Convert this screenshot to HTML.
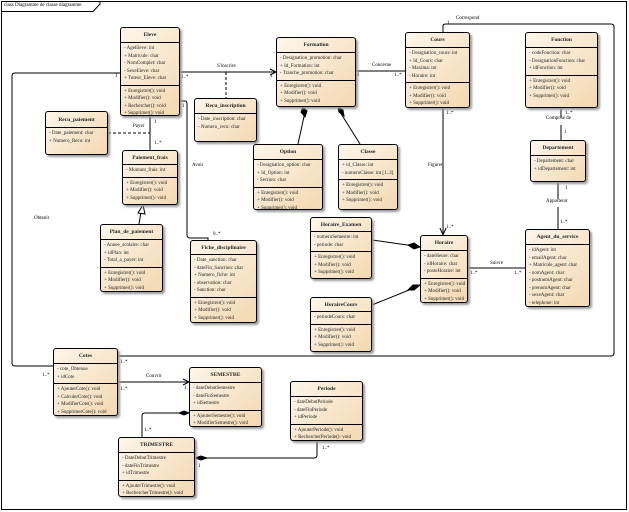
<!DOCTYPE html>
<html><head><meta charset="utf-8"><style>
body{margin:0;width:629px;height:512px;background:#fff;position:relative;overflow:hidden;font-family:"Liberation Serif",serif;}
.b{position:absolute;border:1px solid #000;border-radius:3px;background:linear-gradient(135deg,#fdf6ea,#f3d8b2);box-shadow:2px 2px 2px #999;box-sizing:border-box;font-size:5px;color:#222;overflow:hidden}
.t{font-weight:bold;text-align:center;border-bottom:1px solid #000;display:flex;align-items:center;justify-content:center;font-size:5.5px}
.s{border-bottom:1px solid #000;padding:2px 0 2px 3px}
.s:last-child{border-bottom:none}
.s div{height:7.5px;line-height:7.5px;white-space:nowrap}
.l{position:absolute;font-size:5px;font-family:"Liberation Serif",serif;white-space:nowrap}
svg{position:absolute;left:0;top:0}
</style></head><body>
<svg width="629" height="512" stroke="#000" fill="none" stroke-width="1">
<rect x="1.5" y="1.5" width="625" height="508"/>
<path d="M1.5 11.5 H93 L100 4 V1.5"/>
<path d="M120 73 H15 Q12 73 12 76 V363 Q12 366 15 366 H53"/>
<path d="M443 32 V26 Q443 24 446 24 H611 Q614 24 614 27 V353 Q614 356 611 356 H118"/>
<path d="M180 72 H276 M270 69 L276 72 L270 75"/>
<path d="M226 72 V98" stroke-dasharray="3,2"/>
<path d="M356 71 H405"/>
<path d="M305 112 L298 144 M340 112 L360 144"/>
<path d="M303 107 L307 111 L305 117 L301 112Z M338 107 L343 110 L344 116 L339 112Z" fill="#000"/>
<path d="M150 116 V150"/>
<path d="M108 133 H150" stroke-dasharray="3,2"/>
<path d="M180 101 H185 Q187 101 187 104 V235 Q187 238 190 238 H208 V240"/>
<path d="M139 224 L141 212"/><path d="M143 205 L138 213 L145 214Z" fill="#fff"/>
<path d="M443 108 V235 M440 228 L443 235 L446 228"/>
<path d="M372 240 L414 246 M372 305 L414 288"/>
<path d="M420 247 L414 243 L408 245 L414 249Z M420 285 L413 285 L408 290 L414 290Z" fill="#000"/>
<path d="M468 268 H525"/>
<path d="M561 108 V117 M561 125 V140 M558 182 V199 M558 207 V229"/>
<path d="M118 382 H189 M183 379 L189 382 L183 385"/>
<path d="M142 437 V416 Q142 413 145 413 H183"/>
<path d="M189 413 L184 411 L179 413 L184 415Z" fill="#000"/>
<path d="M317 441 V455 Q317 458 314 458 H207"/>
<path d="M195 458 L201 456 L207 458 L201 460Z" fill="#000"/>
</svg>
<div class="l" style="left:4px;top:3px;font-size:5px">class Diagramme de classe diagramme</div>
<div class="l" style="left:217px;top:64px">S'inscrire</div>
<div class="l" style="left:372px;top:63px">Concerne</div>
<div class="l" style="left:394px;top:73px">1..*</div>
<div class="l" style="left:357px;top:73px">1</div>
<div class="l" style="left:270px;top:74px">1</div>
<div class="l" style="left:181px;top:75px">1..*</div>
<div class="l" style="left:115px;top:74px">1</div>
<div class="l" style="left:182px;top:104px">1</div>
<div class="l" style="left:133px;top:124px">Payer</div>
<div class="l" style="left:154px;top:120px">1</div>
<div class="l" style="left:154px;top:141px">1..*</div>
<div class="l" style="left:192px;top:163px">Avoir</div>
<div class="l" style="left:213px;top:232px">0..*</div>
<div class="l" style="left:34px;top:216px">Obtenir</div>
<div class="l" style="left:456px;top:16px">Correspond</div>
<div class="l" style="left:447px;top:21px">1</div>
<div class="l" style="left:446px;top:111px">1..*</div>
<div class="l" style="left:428px;top:163px">Figurer</div>
<div class="l" style="left:446px;top:225px">1..*</div>
<div class="l" style="left:565px;top:111px">1..*</div>
<div class="l" style="left:546px;top:116px">Composé de</div>
<div class="l" style="left:564px;top:130px">1</div>
<div class="l" style="left:565px;top:186px">1</div>
<div class="l" style="left:546px;top:199px">Appartenir</div>
<div class="l" style="left:560px;top:220px">1..*</div>
<div class="l" style="left:490px;top:261px">Suivre</div>
<div class="l" style="left:470px;top:271px">1..*</div>
<div class="l" style="left:514px;top:271px">1..*</div>
<div class="l" style="left:120px;top:360px">1..*</div>
<div class="l" style="left:42px;top:373px">1..*</div>
<div class="l" style="left:146px;top:374px">Couvrir</div>
<div class="l" style="left:120px;top:387px">1..*</div>
<div class="l" style="left:184px;top:386px">1</div>
<div class="l" style="left:144px;top:428px">1..*</div>
<div class="l" style="left:198px;top:464px">1</div>
<div class="l" style="left:322px;top:446px">1..*</div>

<div class="b" style="left:120px;top:27px;width:60px;height:89px"><div class="t" style="height:14px">Eleve</div><div class="s"><div>- AgeEleve: int</div><div>+ Matricule: char</div><div>- NomComplet: char</div><div>- SexeEleve: char</div><div>+ Tuteur_Eleve: char</div></div><div class="s"><div>+ Enregistrer(): void</div><div>+ Modifier(): void</div><div>+ Rechercher(): void</div><div>+ Supprimer(): void</div></div></div>
<div class="b" style="left:45px;top:111px;width:63px;height:44px"><div class="t" style="height:15px">Recu_paiement</div><div class="s"><div>- Date_paiement: char</div><div>+ Numero_Recu: int</div></div></div>
<div class="b" style="left:122px;top:150px;width:56px;height:55px"><div class="t" style="height:13px">Paiement_frais</div><div class="s"><div>- Montant_frais: int</div></div><div class="s"><div>+ Enregistrer(): void</div><div>+ Modifier(): void</div><div>+ Supprimer(): void</div></div></div>
<div class="b" style="left:100px;top:224px;width:63px;height:68px"><div class="t" style="height:14px">Plan_de_paiement</div><div class="s"><div>- Annee_scolaire: char</div><div>+ idPlan: int</div><div>- Total_a_payer: int</div></div><div class="s"><div>+ Enregistrer(): void</div><div>+ Modifier(): void</div><div>+ Supprimer(): void</div></div></div>
<div class="b" style="left:194px;top:98px;width:63px;height:44px"><div class="t" style="height:14px">Recu_inscription</div><div class="s"><div>- Date_inscription: char</div><div>- Numero_recu: char</div></div></div>
<div class="b" style="left:276px;top:37px;width:80px;height:70px"><div class="t" style="height:14px">Formation</div><div class="s"><div>- Designation_promotion: char</div><div>+ Id_Formation: int</div><div>- Tranche_promotion: char</div></div><div class="s"><div>+ Enregistrer(): void</div><div>+ Modifier(): void</div><div>+ Supprimer(): void</div></div></div>
<div class="b" style="left:253px;top:144px;width:70px;height:66px"><div class="t" style="height:14px">Option</div><div class="s"><div>- Designation_option: char</div><div>+ Id_Option: int</div><div>- Section: char</div></div><div class="s"><div>+ Enregistrer(): void</div><div>+ Modifier(): void</div><div>+ Supprimer(): void</div></div></div>
<div class="b" style="left:338px;top:144px;width:60px;height:66px"><div class="t" style="height:14px">Classe</div><div class="s"><div>+ id_Classe: int</div><div>- numeroClasse: int [1..3]</div></div><div class="s"><div>+ Enregistrer(): void</div><div>+ Modifier(): void</div><div>+ Supprimer(): void</div></div></div>
<div class="b" style="left:405px;top:32px;width:65px;height:76px"><div class="t" style="height:14px">Cours</div><div class="s"><div>- Designation_cours: int</div><div>+ Id_Cours: char</div><div>- Maxima: int</div><div>- Horaire: int</div></div><div class="s"><div>+ Enregistrer(): void</div><div>+ Modifier(): void</div><div>+ Supprimer(): void</div></div></div>
<div class="b" style="left:525px;top:32px;width:73px;height:76px"><div class="t" style="height:14px">Fonction</div><div class="s"><div>- codeFonction: char</div><div>- DesignationFonction: char</div><div>+ idFonction: int</div></div><div class="s"><div>+ Enregistrer(): void</div><div>+ Modifier(): void</div><div>+ Supprimer(): void</div></div></div>
<div class="b" style="left:530px;top:140px;width:56px;height:42px"><div class="t" style="height:14px">Departement</div><div class="s"><div>- Departement: char</div><div>+ idDepartement: int</div></div></div>
<div class="b" style="left:525px;top:229px;width:65px;height:78px"><div class="t" style="height:14px">Agent_du_service</div><div class="s"><div>- idAgent: int</div><div>- emailAgent: char</div><div>+ Matricule_agent: char</div><div>- nomAgent: char</div><div>- postnomAgent: char</div><div>- prenomAgent: char</div><div>- sexeAgent: char</div><div>- telephone: int</div></div></div>
<div class="b" style="left:420px;top:235px;width:48px;height:68px"><div class="t" style="height:14px">Horaire</div><div class="s"><div>- dateHeure: char</div><div>- idHoraire: char</div><div>- posteHoraire: int</div></div><div class="s"><div>+ Enregistrer(): void</div><div>+ Modifier(): void</div><div>+ Supprimer(): void</div></div></div>
<div class="b" style="left:310px;top:217px;width:62px;height:62px"><div class="t" style="height:13px">Horaire_Examen</div><div class="s"><div>- numeroSemestre: int</div><div>- periode: char</div></div><div class="s"><div>+ Enregistrer(): void</div><div>+ Modifier(): void</div><div>+ Supprimer(): void</div></div></div>
<div class="b" style="left:310px;top:297px;width:62px;height:55px"><div class="t" style="height:13px">HoraireCours</div><div class="s"><div>- periodeCours: char</div></div><div class="s"><div>+ Enregistrer(): void</div><div>+ Modifier(): void</div><div>+ Supprimer(): void</div></div></div>
<div class="b" style="left:190px;top:240px;width:67px;height:83px"><div class="t" style="height:13px">Fiche_disciplinaire</div><div class="s"><div>- Date_sanction: char</div><div>- dateFin_Sanction: char</div><div>+ Numero_fiche: int</div><div>- observation: char</div><div>- Sanction: char</div></div><div class="s"><div>+ Enregistrer(): void</div><div>+ Modifier(): void</div><div>+ Supprimer(): void</div></div></div>
<div class="b" style="left:53px;top:348px;width:65px;height:68px"><div class="t" style="height:14px">Cotes</div><div class="s"><div>- cote_Obtenue</div><div>+ idCote</div></div><div class="s"><div>+ AjouterCote(): void</div><div>+ CalculerCote(): void</div><div>+ ModifierCote(): void</div><div>+ SupprimerCote(): void</div></div></div>
<div class="b" style="left:189px;top:367px;width:73px;height:60px"><div class="t" style="height:14px">SEMESTRE</div><div class="s"><div>- dateDebutSemestre</div><div>- dateFinSemestre</div><div>+ idSemestre</div></div><div class="s"><div>+ AjouterSemestre(): void</div><div>+ ModifierSemestre(): void</div></div></div>
<div class="b" style="left:118px;top:437px;width:77px;height:60px"><div class="t" style="height:14px">TRIMESTRE</div><div class="s"><div>- DateDebutTrimestre</div><div>- dateFinTrimestre</div><div>+ idTrimestre</div></div><div class="s"><div>+ AjouterTrimestre(): void</div><div>+ RechercherTrimestre(): void</div></div></div>
<div class="b" style="left:290px;top:381px;width:73px;height:60px"><div class="t" style="height:14px">Periode</div><div class="s"><div>- dateDebutPeriode</div><div>- dateFinPeriode</div><div>+ idPeriode</div></div><div class="s"><div>+ AjouterPeriode(): void</div><div>+ RechercherPeriode(): void</div></div></div>
</body></html>
